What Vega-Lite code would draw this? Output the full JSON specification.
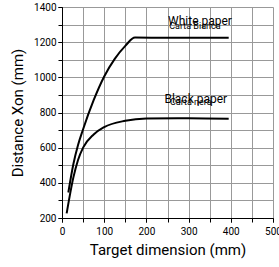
{
  "$schema": "https://vega.github.io/schema/vega-lite/v6.json",
  "width": 211,
  "height": 211,
  "autosize": {"type": "none"},
  "padding": {"left": 62, "top": 7, "right": 6, "bottom": 49},
  "config": {
    "view": {"stroke": null},
    "font": "Roboto",
    "axis": {"gridColor": "#999999", "gridOpacity": 1, "gridWidth": 1, "domainColor": "#000", "tickColor": "#000", "labelColor": "#000", "titleColor": "#000", "labelFont": "Roboto", "titleFont": "Roboto", "titleFontWeight": "normal", "labelOverlap": false, "labelFontSize": 10, "titleFontSize": 15}
  },
  "resolve": {"axis": {"x": "independent", "y": "independent"}},
  "datasets": {
    "curves": [
      {"series": "White", "x": 15, "y": 345},
      {"series": "White", "x": 27, "y": 507},
      {"series": "White", "x": 38, "y": 615},
      {"series": "White", "x": 50, "y": 705},
      {"series": "White", "x": 75, "y": 870},
      {"series": "White", "x": 100, "y": 1005},
      {"series": "White", "x": 125, "y": 1105},
      {"series": "White", "x": 150, "y": 1179},
      {"series": "White", "x": 173, "y": 1226},
      {"series": "White", "x": 250, "y": 1225},
      {"series": "White", "x": 395, "y": 1225},
      {"series": "Black", "x": 11, "y": 226},
      {"series": "Black", "x": 27, "y": 431},
      {"series": "Black", "x": 38, "y": 530},
      {"series": "Black", "x": 50, "y": 600},
      {"series": "Black", "x": 75, "y": 675},
      {"series": "Black", "x": 100, "y": 717},
      {"series": "Black", "x": 150, "y": 753},
      {"series": "Black", "x": 200, "y": 766},
      {"series": "Black", "x": 300, "y": 768},
      {"series": "Black", "x": 395, "y": 765}
    ],
    "labels": [
      {"x": 327, "y": 1318, "text": "White paper", "size": 12},
      {"x": 315, "y": 1290, "text": "Carta Bianca", "size": 9},
      {"x": 317, "y": 875, "text": "Black paper", "size": 12},
      {"x": 305, "y": 862, "text": "Carta nera", "size": 9}
    ]
  },
  "layer": [
    {
      "data": {"name": "curves"},
      "mark": {"type": "line", "color": "#000", "strokeWidth": 2, "interpolate": "monotone"},
      "encoding": {
        "x": {"field": "x", "type": "quantitative", "scale": {"domain": [0, 500], "nice": false},
          "axis": {"orient": "bottom", "values": [0,50,100,150,200,250,300,350,400,450,500], "grid": true, "labels": false, "title": null, "tickSize": 4, "domain": true}},
        "y": {"field": "y", "type": "quantitative", "scale": {"domain": [200, 1400], "nice": false},
          "axis": {"orient": "left", "values": [200,300,400,500,600,700,800,900,1000,1100,1200,1300,1400], "grid": true, "labels": false, "title": null, "tickSize": 4, "domain": true}},
        "detail": {"field": "series"}
      }
    },
    {
      "data": {"name": "labels"},
      "mark": {"type": "text", "color": "#000", "font": "Roboto"},
      "encoding": {
        "x": {"field": "x", "type": "quantitative",
          "axis": {"orient": "bottom", "values": [0,100,200,300,400,500], "format": "d", "grid": false, "domain": false, "tickSize": 4, "labelPadding": 4, "labelFlush": false, "title": "Target dimension (mm)", "titlePadding": 6}},
        "y": {"field": "y", "type": "quantitative",
          "axis": {"orient": "left", "values": [200,400,600,800,1000,1200,1400], "format": "d", "grid": false, "domain": false, "tickSize": 4, "labelPadding": 2, "labelFlush": false, "title": "Distance Xon (mm)", "titlePadding": 8}},
        "text": {"field": "text"},
        "size": {"field": "size", "type": "quantitative", "scale": null}
      }
    }
  ]
}
